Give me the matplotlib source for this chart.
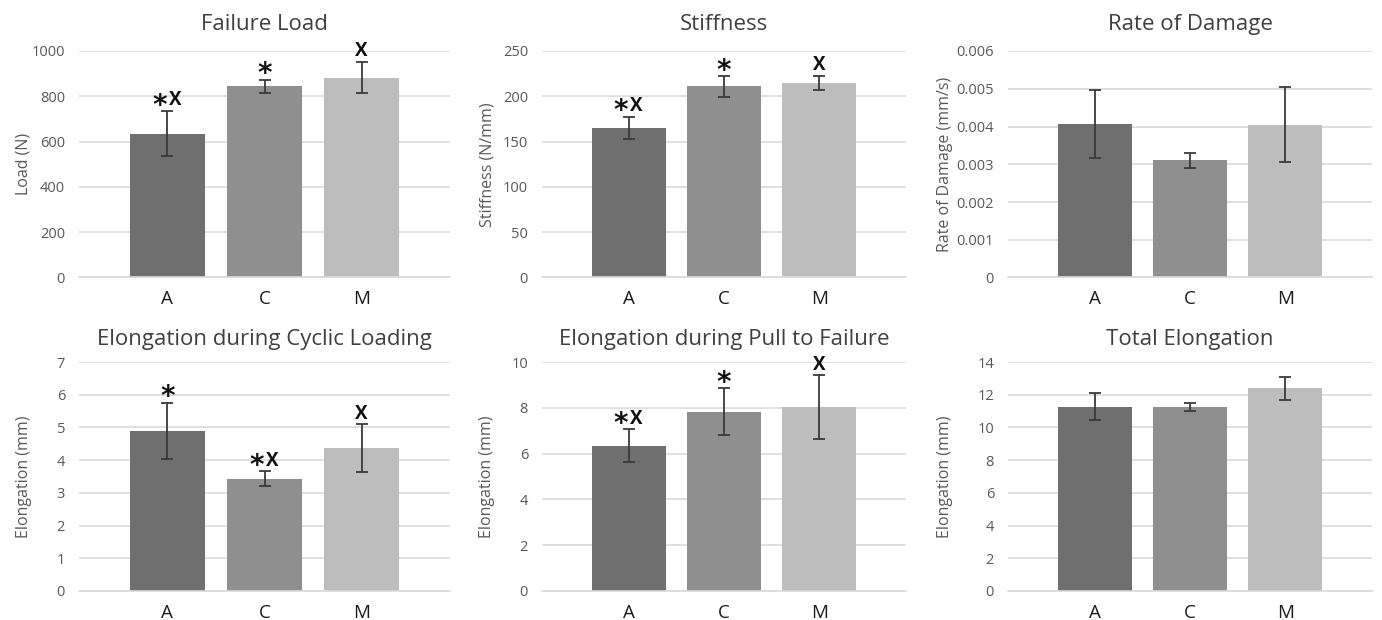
import matplotlib
matplotlib.use('Agg')
import matplotlib.pyplot as plt
from matplotlib.ticker import FuncFormatter

plt.rcParams['font.family'] = ['Open Sans', 'DejaVu Sans']

groups = ['A', 'C', 'M']

titles = ['Failure Load', 'Stiffness', 'Rate of Damage',
          'Elongation during Cyclic Loading', 'Elongation during Pull to Failure', 'Total Elongation']
ylabels = ['Load (N)', 'Stiffness (N/mm)', 'Rate of Damage (mm/s)',
           'Elongation (mm)', 'Elongation (mm)', 'Elongation (mm)']

# means and standard deviations
load_mean = [635, 845, 883]
load_sd = [100, 29, 69]
stiff_mean = [165, 211, 215]
stiff_sd = [12.5, 11.5, 7.5]
damage_mean = [0.00407, 0.0031, 0.00405]
damage_sd = [0.0009, 0.0002, 0.001]
cyclic_mean = [4.9, 3.43, 4.37]
cyclic_sd = [0.86, 0.23, 0.72]
pull_mean = [6.35, 7.83, 8.02]
pull_sd = [0.72, 1.02, 1.4]
total_mean = [11.26, 11.23, 12.4]
total_sd = [0.83, 0.25, 0.7]

# significance marks above each bar
load_marks = ['*X', '*', 'X']
stiff_marks = ['*X', '*', 'X']
damage_marks = ['', '', '']
cyclic_marks = ['*', '*X', 'X']
pull_marks = ['*X', '*', 'X']
total_marks = ['', '', '']

# y axis ranges and tick steps
ymax = [1000, 250, 0.006, 7, 10, 14]
ystep = [200, 50, 0.001, 1, 2, 2]

means = [load_mean, stiff_mean, damage_mean, cyclic_mean, pull_mean, total_mean]
sds = [load_sd, stiff_sd, damage_sd, cyclic_sd, pull_sd, total_sd]
marks = [load_marks, stiff_marks, damage_marks, cyclic_marks, pull_marks, total_marks]

bar_colors = ['#6f6f6f', '#8f8f8f', '#bdbdbd']
W, H = 1382, 620

fig = plt.figure(figsize=(W / 100, H / 100), dpi=100)

# axes boxes in pixels: left, right, top, bottom
cols = [(79, 450), (542, 906), (1008, 1372)]
rows = [(51, 277.5), (362, 591)]
label_x = [-0.128, -0.128, -0.15]


def draw_mark(ax, x, y, text):
    # star drawn larger than the X, like the original
    n = len(text)
    for j, ch in enumerate(text):
        dx = (j - (n - 1) / 2) * 11
        if ch == '*':
            ax.annotate(ch, (x, y), xytext=(dx, -2), textcoords='offset points',
                        ha='center', va='baseline', fontsize=20, fontweight='bold',
                        family='DejaVu Sans', color='#111111', zorder=4)
        else:
            ax.annotate(ch, (x, y), xytext=(dx, 4), textcoords='offset points',
                        ha='center', va='baseline', fontsize=13.5, fontweight='bold',
                        color='#111111', zorder=4)


for i in range(6):
    r, c = divmod(i, 3)
    x0, x1 = cols[c]
    t, b = rows[r]
    ax = fig.add_axes([x0 / W, 1 - b / H, (x1 - x0) / W, (b - t) / H])
    xs = range(len(groups))
    ax.bar(xs, means[i], width=0.78, color=bar_colors, zorder=2)
    ax.errorbar(xs, means[i], yerr=sds[i], fmt='none', ecolor='#3a3a3a',
                elinewidth=1.3, capsize=4, capthick=1.3, zorder=3)
    for k in xs:
        if marks[i][k]:
            draw_mark(ax, k, means[i][k] + sds[i][k], marks[i][k])
    ax.set_xlim(-0.91, 2.91)
    ax.set_ylim(0, ymax[i])
    n = int(round(ymax[i] / ystep[i]))
    ax.set_yticks([ystep[i] * j for j in range(n + 1)])
    ax.yaxis.set_major_formatter(FuncFormatter(lambda v, p: '%g' % round(v, 6)))
    ax.set_xticks(list(xs))
    ax.set_xticklabels(groups)
    ax.grid(axis='y', color='#d9d9d9', linewidth=1.2, zorder=0)
    ax.set_axisbelow(True)
    for s in ['top', 'right', 'left']:
        ax.spines[s].set_visible(False)
    ax.spines['bottom'].set_color('#d9d9d9')
    ax.spines['bottom'].set_linewidth(1.2)
    ax.tick_params(axis='y', length=0, pad=10, labelsize=10.5, labelcolor='#595959')
    ax.tick_params(axis='x', length=0, pad=9, labelsize=13.5, labelcolor='#1a1a1a')
    ax.set_title(titles[i], fontsize=16, color='#404040', pad=15 if r == 0 else 12)
    ax.set_ylabel(ylabels[i], fontsize=11.5, color='#595959')
    ax.yaxis.set_label_coords(label_x[c], 0.5)

fig.savefig('out.png', dpi=100)
